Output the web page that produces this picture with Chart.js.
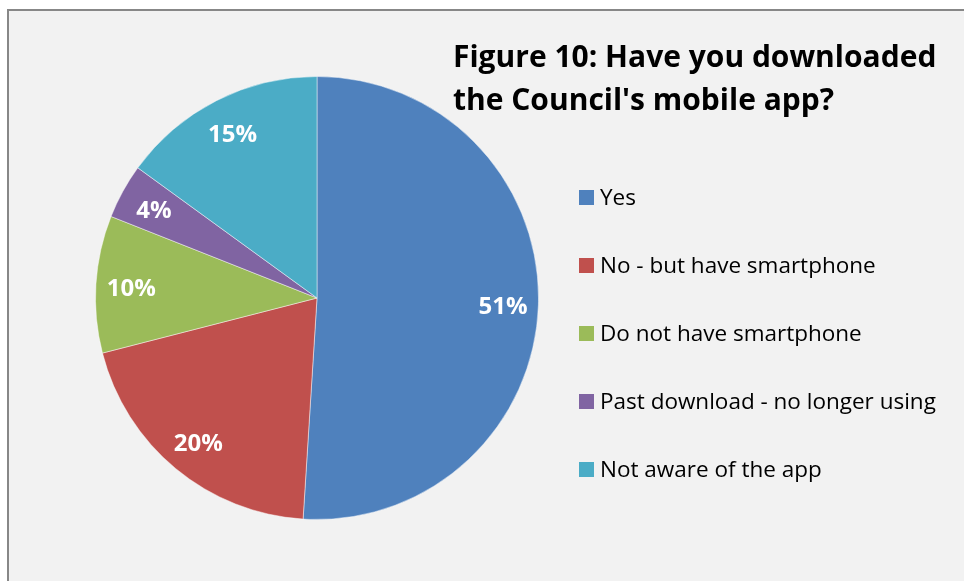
<!DOCTYPE html>
<html>
<head>
<meta charset="utf-8">
<script src="https://cdn.jsdelivr.net/npm/chart.js@4"></script>
<style>
  html, body { margin: 0; padding: 0; background: #fff; overflow: hidden; }
  .frame {
    position: absolute; left: 7px; top: 9px; width: 1000px; height: 620px;
    background: #f2f2f2; border-left: 2px solid #878787; border-top: 2px solid #878787;
  }
  #pie { position: absolute; left: 0; top: 0; }
</style>
</head>
<body>
<div class="frame"></div>
<canvas id="pie" width="964" height="581"></canvas>
<script>
// survey answers, share of respondents (%)
const answers = ['Yes', 'No - but have smartphone', 'Do not have smartphone', 'Past download - no longer using', 'Not aware of the app'];
const shares = [51, 20, 10, 4, 15];
const sliceColours = ['#4f81bd', '#c0504d', '#9bbb59', '#8064a2', '#4bacc6'];
const titleLines = ['Figure 10: Have you downloaded', "the Council's mobile app?"];

const FONT = '"Open Sans", Lato, sans-serif';

// percent labels inside each slice
const sliceLabels = {
  id: 'sliceLabels',
  afterDatasetsDraw(chart) {
    const ctx = chart.ctx;
    const meta = chart.getDatasetMeta(0);
    ctx.save();
    ctx.fillStyle = '#fff';
    ctx.font = 'bold 24px ' + FONT;
    ctx.textAlign = 'center';
    ctx.textBaseline = 'middle';
    meta.data.forEach((arc, i) => {
      const p = arc.getProps(['x', 'y', 'startAngle', 'endAngle', 'outerRadius']);
      const mid = (p.startAngle + p.endAngle) / 2;
      const r = p.outerRadius * 0.84;
      ctx.fillText(shares[i] + '%', p.x + Math.cos(mid) * r, p.y + Math.sin(mid) * r + 3);
    });
    ctx.restore();
  }
};

// title block and the legend on the right
const sideText = {
  id: 'sideText',
  afterDraw(chart) {
    const ctx = chart.ctx;
    ctx.save();
    ctx.fillStyle = '#000';
    ctx.textAlign = 'left';
    ctx.textBaseline = 'alphabetic';
    ctx.font = 'bold 30px ' + FONT;
    titleLines.forEach((line, i) => ctx.fillText(line, 453, 67 + i * 43));

    ctx.font = '22.5px ' + FONT;
    answers.forEach((label, i) => {
      const base = 205 + i * 68;
      ctx.fillStyle = sliceColours[i];
      ctx.fillRect(579, base - 15, 15, 15);
      ctx.fillStyle = '#000';
      ctx.fillText(label, 600, base);
    });
    ctx.restore();
  }
};

new Chart(document.getElementById('pie').getContext('2d'), {
  type: 'pie',
  data: {
    labels: answers,
    datasets: [{
      data: shares,
      backgroundColor: sliceColours,
      borderColor: 'rgba(255,255,255,0.45)',
      borderWidth: 1
    }]
  },
  options: {
    responsive: false,
    animation: false,
    layout: { padding: { left: 95, right: 425, top: 76, bottom: 61 } },
    plugins: {
      legend: { display: false },
      tooltip: { enabled: false }
    }
  },
  plugins: [sliceLabels, sideText]
});
</script>
</body>
</html>
